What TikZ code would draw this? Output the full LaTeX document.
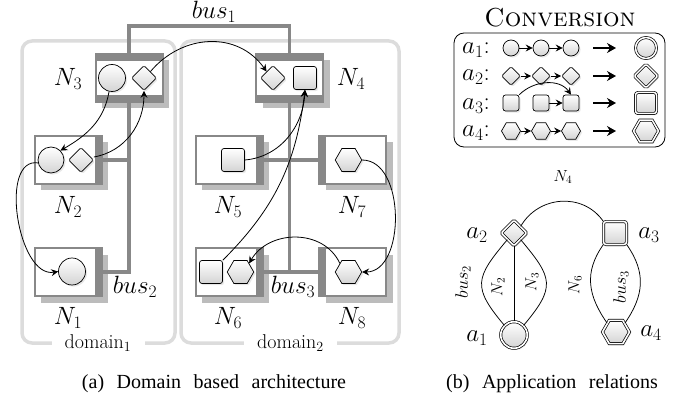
\documentclass[tikz,border=0pt]{standalone}
\usepackage{fix-cm}
\usepackage{amssymb}
\usepackage{fontspec}
\newfontfamily\capfont{Liberation Serif}
\usetikzlibrary{shapes.geometric,shadows,arrows.meta}
\definecolor{busgray}{RGB}{136,136,136}
\definecolor{domgray}{RGB}{220,220,220}
\definecolor{shadegray}{RGB}{188,188,188}
\newcommand{\wordgap}{\hspace{12.5pt}}
\tikzset{every picture/.style={line width=0.75pt}}
\tikzset{
	shapebase/.style={draw,line width=0.7pt,inner sep=0pt,top color=white,bottom color=black!17,
		drop shadow={opacity=0.18,shadow xshift=1.6pt,shadow yshift=-1.6pt}},
	app circle/.style={shapebase,circle,minimum size=#1},
	app diamond/.style={shapebase,diamond,aspect=1,rounded corners=1.5pt,minimum width=#1,minimum height=#1},
	app square/.style={shapebase,rectangle,rounded corners=2.5pt,minimum width=#1,minimum height=#1},
	app hexagon/.style={shapebase,regular polygon,regular polygon sides=6,minimum size=#1},
	ecubox/.style={rectangle,draw=busgray,line width=2pt,fill=white,minimum width=67pt,minimum height=48pt,inner sep=0pt,
		general shadow={fill=shadegray,shadow xshift=6.5pt,shadow yshift=-6.5pt}},
	thick tb/.style={path picture={
		\fill[busgray] (path picture bounding box.north west) rectangle ([yshift=-7pt]path picture bounding box.north east);
		\fill[busgray] (path picture bounding box.south west) rectangle ([yshift=7pt]path picture bounding box.south east);}},
	thick r/.style={path picture={
		\fill[busgray] (path picture bounding box.north east) rectangle ([xshift=-7pt]path picture bounding box.south east);}},
	thick l/.style={path picture={
		\fill[busgray] (path picture bounding box.north west) rectangle ([xshift=7pt]path picture bounding box.south west);}},
	busline/.style={draw=busgray,line width=3.2pt},
	domainbox/.style={draw=domgray,line width=3.5pt,rounded corners=10pt},
	flow/.style={-{Stealth[length=7pt,width=7pt,inset=2.5pt]},line width=0.8pt},
	bigarrow/.style={-{Stealth[length=9pt,width=10pt,inset=3pt]},line width=1.6pt},
	mathlbl/.style={inner sep=0pt,font=\fontsize{25}{27}\selectfont},
	smalllbl/.style={inner sep=0pt,rotate=90,font=\fontsize{16}{18}\selectfont},
	buslbl/.style={inner sep=0pt,rotate=90,font=\fontsize{18}{20}\selectfont},
	caplbl/.style={inner sep=0pt,anchor=base,font=\capfont\fontsize{20}{22}\selectfont},
	domlbl/.style={inner sep=0pt,minimum width=93pt,minimum height=14pt,fill=white,font=\fontsize{20}{22}\selectfont},
}

\begin{document}
\begin{tikzpicture}[x=1pt,y=1pt,yscale=-1,xscale=1]
	\useasboundingbox (0,0) rectangle (683,401);

	% Domains
	\draw[domainbox] (22,41) rectangle (175,343);
	\draw[domainbox] (181,41) rectangle (399,343);
	\node[domlbl] (dom1) at (98,343) {$\mathrm{domain}_1$};
	\node[domlbl] (dom2) at (290.5,343) {$\mathrm{domain}_2$};

	% Boxes
	\node[ecubox,thick tb] (N3) at (129,78) {};
	\node[ecubox,thick tb] (N4) at (289.5,78) {};
	\node[ecubox,thick r] (N2) at (68,160) {};
	\node[ecubox,thick r] (N1) at (68,272) {};
	\node[ecubox,thick r] (N5) at (229,160) {};
	\node[ecubox,thick r] (N6) at (229,272) {};
	\node[ecubox,thick l] (N7) at (352.5,160) {};
	\node[ecubox,thick l] (N8) at (352.5,272) {};

	% Buses
	\coordinate (bus1top) at (129,26);
	\draw[busline] (N3.north) -- (bus1top) -| (N4.north);
	\draw[busline] (N3.south) -- (N3.south |- N1.east) -- (N1.east);
	\draw[busline] (N2.east) -- (N2.east -| N3.south);
	\draw[busline] (N4.south) -- (N4.south |- N6.east);
	\draw[busline] (N5.east) -- (N7.west);
	\draw[busline] (N6.east) -- (N8.west);

	% Shapes
	\node[app circle=27pt] (c3) at (112,78) {};
	\node[app diamond=25pt] (d3) at (144,78) {};
	\node[app circle=26pt] (c2) at (51,160) {};
	\node[app diamond=25pt] (d2) at (81,160) {};
	\node[app circle=27pt] (c1) at (72,271.5) {};
	\node[app diamond=25pt] (d4) at (273,78) {};
	\node[app square=23pt] (s4) at (305,78) {};
	\node[app square=23pt] (s5) at (233,160) {};
	\node[app hexagon=26.5pt] (h7) at (348.5,160) {};
	\node[app square=23pt] (s6) at (211,272) {};
	\node[app hexagon=26.5pt] (h6) at (240.5,272) {};
	\node[app hexagon=26.5pt] (h8) at (348.5,272) {};

	% Flows
	\draw[flow] (d3.north east) to[out=-50,in=-125,looseness=1.1] (d4.north west);
	\draw[flow] (c3.south) ++(-3,0) to[out=100,in=-30] (c2.north east);
	\draw[flow] (d2.east) ++(0,-3) to[out=-10,in=90] (d3.south);
	\draw[flow] (c2.west) ++(1,3) to[out=190,in=170,looseness=0.95] (c1.west);
	\draw[flow] (s5.east) to[out=-5,in=93] (s4.south);
	\draw[flow] (s6.north east) to[out=-45,in=97] (s4.south);
	\draw[flow] (h7.east) to[out=0,in=0,looseness=1.0] (h8.east);
	\draw[flow] (h8.north west) to[out=-115,in=-60,looseness=1.1] (h6.north east);

	% Text Node
	\node[mathlbl] (lblbus1) at (214,12) {$bus_1$};
	\node[mathlbl] (lblbus2) at (135,287) {$bus_2$};
	\node[mathlbl] (lblbus3) at (293,287) {$bus_3$};
	\node[mathlbl] (lblN3) at (68,79) {$N_3$};
	\node[mathlbl] (lblN4) at (351,79) {$N_4$};
	\node[mathlbl] (lblN2) at (68,207) {$N_2$};
	\node[mathlbl] (lblN5) at (228,207) {$N_5$};
	\node[mathlbl] (lblN7) at (352,207) {$N_7$};
	\node[mathlbl] (lblN1) at (68,318) {$N_1$};
	\node[mathlbl] (lblN6) at (228,318) {$N_6$};
	\node[mathlbl] (lblN8) at (352,318) {$N_8$};

	% Conversion
	\node[inner sep=0pt,font=\fontsize{26}{28}\selectfont] (convtitle) at (560,18) {\textsc{Conversion}};
	\draw[line width=0.8pt,rounded corners=10pt] (454,33) rectangle (665,147);
	\node[mathlbl] (rowa1) at (476,50) {$a_1$:};
	\node[mathlbl] (rowa2) at (476,77) {$a_2$:};
	\node[mathlbl] (rowa3) at (476,106) {$a_3$:};
	\node[mathlbl] (rowa4) at (476,133) {$a_4$:};
	% row a1
	\node[app circle=16pt] (ca) at (511,48) {};
	\node[app circle=16pt] (cb) at (541,48) {};
	\node[app circle=16pt] (cc) at (571,48) {};
	\coordinate (arra1s) at (593,48);
	\coordinate (arra1e) at (616,48);
	\draw[bigarrow] (arra1s) -- (arra1e);
	\draw[flow] (ca) -- (cb);
	\draw[flow] (cb) -- (cc);
	\node[app circle=21pt,double,double distance=1.5pt] (cfin) at (646,48) {};
	% row a2
	\node[app diamond=19pt] (da) at (511,76) {};
	\node[app diamond=19pt] (db) at (541,76) {};
	\node[app diamond=19pt] (dc) at (571,76) {};
	\coordinate (arra2s) at (593,76);
	\coordinate (arra2e) at (616,76);
	\draw[bigarrow] (arra2s) -- (arra2e);
	\draw[flow] (da) -- (db);
	\draw[flow] (db) -- (dc);
	\node[app diamond=24pt,double,double distance=1.5pt] (dfin) at (646,76) {};
	% row a3
	\node[app square=16pt] (sa) at (511,103) {};
	\node[app square=16pt] (sb) at (541,103) {};
	\node[app square=16pt] (sc) at (571,103) {};
	\coordinate (arra3s) at (593,103);
	\coordinate (arra3e) at (616,103);
	\draw[bigarrow] (arra3s) -- (arra3e);
	\draw[flow] (sb) -- (sc);
	\draw[flow] (sa.north east) to[out=-45,in=-125] (sc.north);
	\node[app square=21pt,double,double distance=1.5pt] (sfin) at (646,103) {};
	% row a4
	\node[app hexagon=19pt] (ha) at (511,131) {};
	\node[app hexagon=19pt] (hb) at (541,131) {};
	\node[app hexagon=19pt] (hc) at (571,131) {};
	\coordinate (arra4s) at (593,131);
	\coordinate (arra4e) at (616,131);
	\draw[bigarrow] (arra4s) -- (arra4e);
	\draw[flow] (ha) -- (hb);
	\draw[flow] (hb) -- (hc);
	\node[app hexagon=25pt,double,double distance=1.5pt] (hfin) at (646,131) {};

	% Relations
	\node[app diamond=26pt,double,double distance=1.6pt] (ra2) at (514,233) {};
	\node[app square=23pt,double,double distance=1.6pt] (ra3) at (615,233) {};
	\node[app circle=26.5pt,double,double distance=1.6pt] (ra1) at (514,335) {};
	\node[app hexagon=27pt,double,double distance=1.6pt] (ra4) at (616,332) {};
	\draw (ra2.north east) to[out=-60,in=-125,looseness=1.1] (ra3.north west);
	\draw (ra2.south west) to[out=130,in=-130,looseness=1.5] (ra1.north west);
	\draw (ra2.south east) to[out=50,in=-50,looseness=1.5] (ra1.north east);
	\draw (ra2.south) -- (ra1.north);
	\draw (ra3.south west) to[out=125,in=-125,looseness=1.1] (ra4.north west);
	\draw (ra3.south east) to[out=55,in=-55,looseness=1.1] (ra4.north east);

	% Text Node
	\node[mathlbl] (lbla2) at (477,235) {$a_2$};
	\node[mathlbl] (lbla3) at (649,235) {$a_3$};
	\node[mathlbl] (lbla1) at (477,338) {$a_1$};
	\node[mathlbl] (lbla4) at (651,333) {$a_4$};
	\node[inner sep=0pt,font=\fontsize{16}{18}\selectfont] (relN4) at (563,177) {$N_4$};
	\node[buslbl] (relbus2) at (463,282) {$bus_2$};
	\node[smalllbl] (relN2) at (498,287) {$N_2$};
	\node[smalllbl] (relN3) at (532,282) {$N_3$};
	\node[smalllbl] (relN6) at (575,285) {$N_6$};
	\node[buslbl] (relbus3) at (621,287) {$bus_3$};

	% Captions
	\node[caplbl] (capa) at (214,388) {(a)\wordgap Domain\wordgap based\wordgap architecture};
	\node[caplbl] (capb) at (552,388) {(b)\wordgap Application\wordgap relations};
\end{tikzpicture}
\end{document}
